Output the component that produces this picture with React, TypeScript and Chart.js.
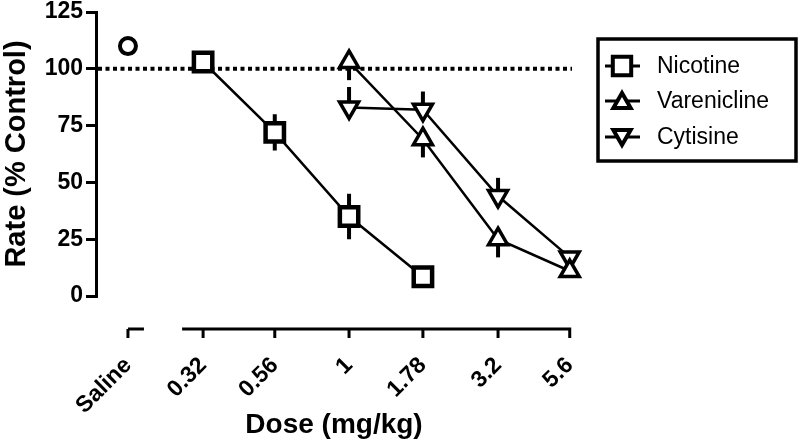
import React, { useEffect, useRef } from "react";
import { Chart, registerables } from "chart.js";

Chart.register(...registerables);

// Tick slots on the dose axis (Saline sits in its own slot on the broken axis)
const salineDose = 0.178;
const tickDoses = [salineDose, 0.32, 0.56, 1, 1.78, 3.2, 5.6];
const tickLabels = ["Saline", "0.32", "0.56", "1", "1.78", "3.2", "5.6"];
const yTicks = [0, 25, 50, 75, 100, 125];

const salineValue = 110;

const nicotineDoses = [0.32, 0.56, 1, 1.78];
const nicotineValues = [103, 72, 35, 8.5];
const nicotineErrors = [0, 8, 10, 0];

const vareniclineDoses = [1, 1.78, 3.2, 5.6];
const vareniclineValues = [103, 69, 25, 11];
const vareniclineErrors = [8, 8, 8, 0];

const cytisineDoses = [1, 1.78, 3.2, 5.6];
const cytisineValues = [83, 82, 44, 17];
const cytisineErrors = [9, 8, 8, 0];

const controlLevel = 100;

const FONT = "'Liberation Sans', Arial, sans-serif";

const toPts = (xs: number[], ys: number[]) => xs.map((x, i) => ({ x, y: ys[i] }));

const errorBarPlugin = {
  id: "errorBars",
  beforeDatasetsDraw(chart: any) {
    const ctx = chart.ctx;
    const xs = chart.scales.x;
    const ys = chart.scales.y;
    // dotted control line
    ctx.save();
    ctx.strokeStyle = "#000";
    ctx.lineWidth = 4;
    ctx.setLineDash([4, 3.5]);
    const yc = ys.getPixelForValue(controlLevel);
    ctx.beginPath();
    ctx.moveTo(chart.chartArea.left + 2, yc);
    ctx.lineTo(chart.chartArea.right, yc);
    ctx.stroke();
    ctx.setLineDash([]);
    // error bars
    chart.data.datasets.forEach((ds: any) => {
      if (!ds.errors) return;
      ctx.lineWidth = 4;
      ds.data.forEach((p: any, i: number) => {
        const e = ds.errors[i];
        if (!e) return;
        const px = xs.getPixelForValue(p.x);
        const y0 = ys.getPixelForValue(p.y);
        const yUp = ys.getPixelForValue(p.y + e);
        const yDn = ys.getPixelForValue(p.y - e);
        ctx.beginPath();
        if (ds.errDir === "both" || ds.errDir === "up") {
          ctx.moveTo(px, y0);
          ctx.lineTo(px, yUp);
        }
        if (ds.errDir === "both" || ds.errDir === "down") {
          ctx.moveTo(px, y0);
          ctx.lineTo(px, yDn);
        }
        ctx.stroke();
      });
    });
    ctx.restore();
  },
};

const axisPlugin = {
  id: "brokenXAxis",
  afterDraw(chart: any) {
    const ctx = chart.ctx;
    const xs = chart.scales.x;
    const y = chart.chartArea.bottom + 33;
    ctx.save();
    ctx.strokeStyle = "#000";
    ctx.lineWidth = 3;
    const ps = tickDoses.map((d) => xs.getPixelForValue(d));
    ctx.beginPath();
    ctx.moveTo(ps[0], y);
    ctx.lineTo(ps[0] + 16, y);
    ctx.moveTo(ps[1] - 21, y);
    ctx.lineTo(ps[ps.length - 1] + 1.5, y);
    ps.forEach((p) => {
      ctx.moveTo(p, y);
      ctx.lineTo(p, y + 9);
    });
    ctx.stroke();
    ctx.restore();
  },
};

const drawMarker = (ctx: any, kind: string, x: number, y: number) => {
  ctx.beginPath();
  if (kind === "rect") {
    const s = 9.2;
    ctx.rect(x - s, y - s, 2 * s, 2 * s);
  } else if (kind === "up") {
    const r = 10;
    ctx.moveTo(x, y - r);
    ctx.lineTo(x + r * 0.866, y + r / 2);
    ctx.lineTo(x - r * 0.866, y + r / 2);
    ctx.closePath();
  } else {
    const r = 10;
    ctx.moveTo(x, y + r);
    ctx.lineTo(x + r * 0.866, y - r / 2);
    ctx.lineTo(x - r * 0.866, y - r / 2);
    ctx.closePath();
  }
  ctx.fillStyle = "#fff";
  ctx.fill();
  ctx.stroke();
};

const legendPlugin = {
  id: "boxLegend",
  afterDraw(chart: any) {
    const ctx = chart.ctx;
    ctx.save();
    ctx.strokeStyle = "#000";
    ctx.lineWidth = 3.5;
    ctx.strokeRect(598, 39, 198, 122);
    const items = [
      { label: "Nicotine", kind: "rect", y: 66 },
      { label: "Varenicline", kind: "up", y: 101 },
      { label: "Cytisine", kind: "down", y: 137 },
    ];
    items.forEach((it) => {
      ctx.lineWidth = 3;
      ctx.beginPath();
      ctx.moveTo(605, it.y);
      ctx.lineTo(640, it.y);
      ctx.stroke();
      ctx.lineWidth = 4;
      drawMarker(ctx, it.kind, 622, it.kind === "up" ? it.y + 2 : it.kind === "down" ? it.y - 2 : it.y);
      ctx.fillStyle = "#000";
      ctx.font = `23px ${FONT}`;
      ctx.textBaseline = "middle";
      ctx.textAlign = "left";
      ctx.fillText(it.label, 657, it.y + 1);
    });
    ctx.restore();
  },
};

export default function App() {
  const ref = useRef<HTMLCanvasElement | null>(null);
  useEffect(() => {
    document.body.style.margin = "0";
    if (!ref.current) return;
    const common = {
      borderColor: "#000",
      borderWidth: 2.5,
      pointBackgroundColor: "#fff",
      tension: 0,
      clip: false,
    };
    const chart = new Chart(ref.current, {
      type: "line",
      data: {
        datasets: [
          {
            label: "Saline",
            data: [{ x: salineDose, y: salineValue }],
            showLine: false,
            pointStyle: "circle",
            pointRadius: 8,
            pointBorderWidth: 4,
            borderColor: "#000",
            pointBackgroundColor: "#fff",
            clip: false,
          },
          {
            ...common,
            label: "Nicotine",
            data: toPts(nicotineDoses, nicotineValues),
            errors: nicotineErrors,
            errDir: "both",
            pointStyle: "rect",
            pointRadius: 13,
            pointBorderWidth: 4.5,
          } as any,
          {
            ...common,
            label: "Varenicline",
            data: toPts(vareniclineDoses, vareniclineValues),
            errors: vareniclineErrors,
            errDir: "down",
            pointStyle: "triangle",
            pointRadius: 11,
            pointBorderWidth: 3.5,
          } as any,
          {
            ...common,
            label: "Cytisine",
            data: toPts(cytisineDoses, cytisineValues),
            errors: cytisineErrors,
            errDir: "up",
            pointStyle: "triangle",
            pointRotation: 180,
            pointRadius: 11,
            pointBorderWidth: 3.5,
          } as any,
        ],
      },
      options: {
        responsive: false,
        animation: false,
        layout: { autoPadding: false, padding: { top: 12, right: 228, left: 0, bottom: 0 } },
        plugins: { legend: { display: false }, tooltip: { enabled: false } },
        scales: {
          x: {
            type: "logarithmic",
            min: 0.1387,
            max: 5.7,
            afterFit: (s: any) => {
              s.height = 147;
              s.paddingLeft = 0;
              s.paddingRight = 0;
            },
            afterBuildTicks: (s: any) => {
              s.ticks = tickDoses.map((v) => ({ value: v }));
            },
            grid: { display: false, drawTicks: false },
            border: { display: false },
            ticks: {
              autoSkip: false,
              minRotation: 45,
              maxRotation: 45,
              padding: 56,
              color: "#000",
              font: { family: FONT, size: 23, weight: "bold" },
              callback: (_v: any, i: number) => tickLabels[i],
            },
            title: {
              display: true,
              text: "Dose (mg/kg)",
              color: "#000",
              font: { family: FONT, size: 28, weight: "bold" },
              padding: { top: 0, bottom: 1 },
            },
          },
          y: {
            min: 0,
            max: 125,
            afterFit: (s: any) => {
              s.width = 96;
              s.paddingTop = 0;
              s.paddingBottom = 0;
            },
            afterBuildTicks: (s: any) => {
              s.ticks = yTicks.map((v) => ({ value: v }));
            },
            grid: {
              display: true,
              drawOnChartArea: false,
              drawTicks: true,
              tickLength: 10,
              lineWidth: 3,
              color: "#000",
            },
            border: { display: true, width: 3, color: "#000" },
            ticks: {
              color: "#000",
              padding: 3,
              font: { family: FONT, size: 23, weight: "bold" },
            },
            title: {
              display: true,
              text: "Rate (% Control)",
              color: "#000",
              font: { family: FONT, size: 29, weight: "bold" },
              padding: { top: 0, bottom: 0 },
            },
          },
        },
      } as any,
      plugins: [errorBarPlugin, axisPlugin, legendPlugin],
    });
    return () => chart.destroy();
  }, []);
  return (
    <div style={{ width: 800, height: 443, background: "#fff" }}>
      <canvas ref={ref} width={800} height={443} />
    </div>
  );
}
